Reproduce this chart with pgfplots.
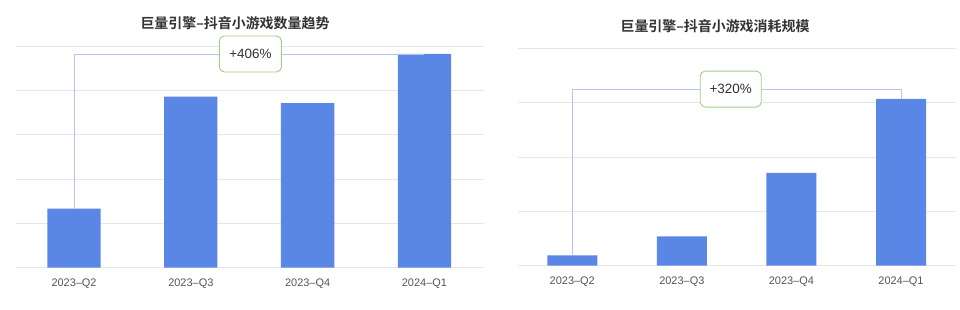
\documentclass[border=0pt]{standalone}
\usepackage{fontspec}
\setmainfont{Noto Sans CJK SC}[BoldFont={Noto Sans CJK SC Bold}]
\newfontfamily\lat{Liberation Sans}
\usepackage{pgfplots}
\pgfplotsset{compat=1.18}
\definecolor{barblue}{HTML}{5A86E6}
\definecolor{gridgray}{HTML}{E6E6E6}
\definecolor{axisgray}{HTML}{8C8C8C}
\definecolor{brk}{HTML}{B3C6F0}
\definecolor{boxgreen}{HTML}{A3CD86}
\definecolor{titlegray}{HTML}{333333}
\definecolor{ticktext}{HTML}{555555}
\pgfplotsset{
  mystyle/.style={
    scale only axis,
    axis line style={draw=none},
    tick style={draw=none},
    yticklabels={},
    ymajorgrids,
    major grid style={draw=gridgray, line width=1bp},
    extra y ticks={0},
    extra y tick labels={},
    extra y tick style={grid style={draw=axisgray, line width=1.1bp}},
    xtick={0,1,2,3},
    xticklabels={2023–Q2,2023–Q3,2023–Q4,2024–Q1},
    xticklabel style={font=\lat\fontsize{11}{13}\selectfont, text=ticktext, anchor=center, yshift=-16bp},
    ymin=0,
    clip=false,
  }
}
\begin{document}
\begin{tikzpicture}[x=1bp,y=1bp]
\path (0,0) rectangle (960,309);
% left chart
\begin{axis}[mystyle, at={(16bp,41.3bp)}, anchor=south west,
  width=468bp, height=221.7bp,
  xmin=-0.497, xmax=3.51, ymax=5, ytick={1,2,3,4,5}]
\addplot[ybar, bar width=53.3bp, fill=barblue, draw=none] coordinates {(0,1.33) (1,3.86) (2,3.71) (3,4.82)};
\addplot[sharp plot, no marks, draw=brk, line width=0.9bp] coordinates {(0,1.33) (0,4.82) (3,4.82)};
\node[draw=boxgreen, fill=white, rounded corners=5bp, minimum width=62bp, minimum height=36bp, line width=0.9bp, font=\lat\fontsize{13.5}{15}\selectfont, text=titlegray] at (axis cs:1.51,4.82) {+406\%};
\end{axis}
% right chart
\begin{axis}[mystyle, at={(517.7bp,43.3bp)}, anchor=south west,
  width=438.3bp, height=217.4bp,
  xmin=-0.498, xmax=3.502, ymax=4, ytick={1,2,3,4}]
\addplot[ybar, bar width=50bp, fill=barblue, draw=none] coordinates {(0,0.19) (1,0.54) (2,1.71) (3,3.07)};
\addplot[sharp plot, no marks, draw=brk, line width=0.9bp] coordinates {(0,0.19) (0,3.25) (3,3.25) (3,3.07)};
\node[draw=boxgreen, fill=white, rounded corners=5bp, minimum width=61bp, minimum height=36bp, line width=0.9bp, font=\lat\fontsize{13.5}{15}\selectfont, text=titlegray] at (axis cs:1.446,3.25) {+320\%};
\end{axis}
\node[font=\bfseries\fontsize{14}{16}\selectfont, text=titlegray] at (235,285.7) {巨量引擎–抖音小游戏数量趋势};
\node[font=\bfseries\fontsize{14}{16}\selectfont, text=titlegray] at (715,283) {巨量引擎–抖音小游戏消耗规模};
\end{tikzpicture}
\end{document}
